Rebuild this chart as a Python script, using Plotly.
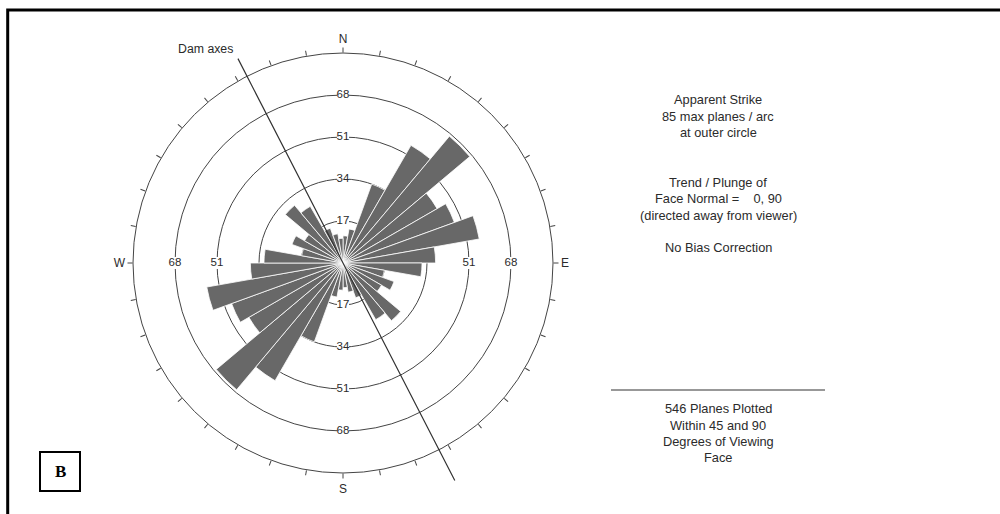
import plotly.graph_objects as go

# ---------------- data ----------------
BIN_WIDTH = 10
# planes per 10-degree arc, azimuth bins 0-10 ... 170-180 (apparent strike is bidirectional)
half_counts = [11, 14, 34, 55, 67, 44, 48, 56, 37.5, 32, 17, 22, 18, 30.5, 26.5, 15, 12, 10]
counts = half_counts + half_counts
bin_centers = [b + BIN_WIDTH / 2 for b in range(0, 360, BIN_WIDTH)]

MAX_PLANES = 85
OUTER_RANGE = 100          # range of the overlay subplot that carries the dam axis
ring_values = [17, 34, 51, 68]
cardinal_labels = {0: "N", 90: "E", 180: "S", 270: "W"}
side_ring_values = [51, 68]

dam_axis_trend = [332.8, 152.8]
dam_axis_extent = [93, 99]

info_block = [
    ("Apparent Strike", 100),
    ("85 max planes / arc", 117),
    ("at outer circle", 133),
    ("Trend / Plunge of", 182),
    ("Face Normal =\u00a0\u00a0\u00a0 0, 90", 199),
    ("(directed away from viewer)", 215),
    ("No Bias Correction", 247),
    ("546 Planes Plotted", 408),
    ("Within 45 and 90", 425),
    ("Degrees of Viewing", 441),
    ("Face", 457),
]

W, H = 1000, 514
CX, CY, R = 343, 263, 210
R2 = R * OUTER_RANGE / MAX_PLANES
FONT = "Arial, Liberation Sans, sans-serif"
TXT = "#2b2b2b"

fig = go.Figure()

fig.add_trace(go.Barpolar(
    r=counts, theta=bin_centers, width=[BIN_WIDTH] * len(counts),
    marker=dict(color="#686868", line=dict(color="white", width=0.8)),
    hoverinfo="skip", showlegend=False, subplot="polar",
))

# ring labels (top/bottom for all rings, sides for outer ones)
lab_r, lab_t, lab_txt = [], [], []
for v in ring_values:
    for t in (0, 180):
        lab_r.append(v); lab_t.append(t); lab_txt.append(str(v))
for v in side_ring_values:
    for t in (90, 270):
        lab_r.append(v); lab_t.append(t); lab_txt.append(str(v))
fig.add_trace(go.Scatterpolar(
    r=lab_r, theta=lab_t, text=lab_txt, mode="markers+text",
    marker=dict(symbol="square", size=12, color="white"),
    textposition="middle center",
    textfont=dict(family=FONT, size=11.5, color=TXT),
    hoverinfo="skip", showlegend=False, subplot="polar",
))

# dam axis line (overlay subplot with the same scale, wider range)
fig.add_trace(go.Scatterpolar(
    r=[dam_axis_extent[0], 0, dam_axis_extent[1]],
    theta=[dam_axis_trend[0], 0, dam_axis_trend[1]],
    mode="lines", line=dict(color="#333333", width=1.2),
    hoverinfo="skip", showlegend=False, subplot="polar2",
))

tickvals = list(range(0, 360, 10))
ticktext = [cardinal_labels.get(t, "") for t in tickvals]

fig.update_layout(
    template="none",
    width=W, height=H,
    margin=dict(l=0, r=0, t=0, b=0),
    paper_bgcolor="white",
    plot_bgcolor="white",
    showlegend=False,
    font=dict(family=FONT, color=TXT),
    polar=dict(
        domain=dict(x=[(CX - R) / W, (CX + R) / W],
                    y=[(H - CY - R) / H, (H - CY + R) / H]),
        bgcolor="white",
        radialaxis=dict(range=[0, MAX_PLANES], tickvals=ring_values,
                        showticklabels=False, ticks="", showline=False,
                        showgrid=True, gridcolor="#444444", gridwidth=1),
        angularaxis=dict(rotation=90, direction="clockwise",
                         tickvals=tickvals, ticktext=ticktext,
                         ticks="outside", ticklen=5, tickcolor="#444444", tickwidth=1,
                         showgrid=False, showline=True,
                         linecolor="#444444", linewidth=1,
                         tickfont=dict(family=FONT, size=12, color=TXT)),
    ),
    polar2=dict(
        domain=dict(x=[(CX - R2) / W, (CX + R2) / W],
                    y=[(H - CY - R2) / H, (H - CY + R2) / H]),
        bgcolor="rgba(0,0,0,0)",
        radialaxis=dict(range=[0, OUTER_RANGE], visible=False, showgrid=False),
        angularaxis=dict(rotation=90, direction="clockwise", visible=False,
                         showgrid=False, showline=False, ticks=""),
    ),
)

annotations = []
for text, y in info_block:
    annotations.append(dict(text=text, x=718 / W, y=1 - y / H, xref="paper", yref="paper",
                            showarrow=False, xanchor="center", yanchor="middle",
                            font=dict(family=FONT, size=12.8, color=TXT)))
annotations.append(dict(text="Dam axes", x=205 / W, y=1 - 49 / H, xref="paper", yref="paper",
                        showarrow=False, xanchor="center", yanchor="middle",
                        font=dict(family=FONT, size=12.3, color=TXT)))
annotations.append(dict(text="<b>B</b>", x=60 / W, y=1 - 471 / H, xref="paper", yref="paper",
                        showarrow=False, xanchor="center", yanchor="middle",
                        font=dict(family="Liberation Serif, Times New Roman, serif", size=17, color="black")))
fig.update_layout(annotations=annotations)

shapes = [
    # outer frame (top and left edges visible)
    dict(type="rect", xref="paper", yref="paper", x0=7.7 / W, x1=1.02, y0=-0.02, y1=1 - 10 / H,
         line=dict(color="black", width=3)),
    # separator line
    dict(type="line", xref="paper", yref="paper", x0=611 / W, x1=825 / W,
         y0=1 - 390 / H, y1=1 - 390 / H, line=dict(color="#333333", width=1.2)),
    # B box
    dict(type="rect", xref="paper", yref="paper", x0=40 / W, x1=80 / W,
         y0=1 - 491 / H, y1=1 - 452 / H, line=dict(color="black", width=2)),
]
fig.update_layout(shapes=shapes)

fig.write_html("out.html")
